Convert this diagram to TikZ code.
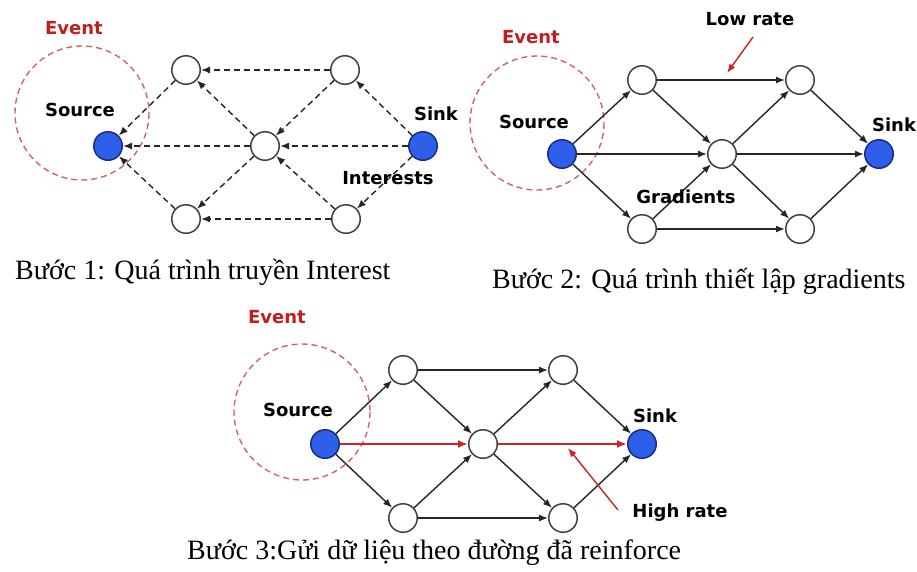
\documentclass[tikz,border=0pt]{standalone}
\usepackage{fontspec}
\setmainfont{Liberation Serif}
\newfontfamily\labelfont{DejaVu Sans}
\usetikzlibrary{arrows.meta}
\definecolor{nodeblue}{RGB}{45,95,235}
\definecolor{nodeedge}{RGB}{25,45,130}
\definecolor{eventred}{RGB}{195,30,30}
\definecolor{ringred}{RGB}{210,100,100}
\definecolor{pathred}{RGB}{205,35,35}
\begin{document}
\begin{tikzpicture}[x=1pt,y=-1pt,
  relay/.style={circle,draw=black!75,line width=1.5pt,fill=white,minimum size=28.5pt,inner sep=0pt},
  endpoint/.style={circle,draw=nodeedge,line width=1.5pt,fill=nodeblue,minimum size=28.5pt,inner sep=0pt},
  ring/.style={draw=ringred,dash pattern=on 6pt off 4pt,line width=1.4pt},
  lbl/.style={font=\labelfont\bfseries\fontsize{18}{21}\selectfont,inner sep=0pt},
  evt/.style={lbl,text=eventred},
  caption/.style={font=\fontsize{28}{31}\selectfont,inner sep=0pt,anchor=west},
  link/.style={draw=black!85,line width=1.4pt,-{Latex[length=9pt,width=7pt]}},
  interest/.style={link,dash pattern=on 6pt off 4pt},
  reinforced/.style={draw=pathred,line width=2.2pt,-{Latex[length=10pt,width=8pt]}},
  pointer/.style={draw=pathred,line width=1.4pt,-{Latex[length=9pt,width=7pt]}}
]
\fill[white] (0,0) rectangle (917,571);
\clip (0,0) rectangle (917,571);

% ---------- Step 1: interest propagation ----------
\draw[ring] (82,113) circle[radius=67];
\node[endpoint] (s1) at (108,146) {};
\node[relay] (a1) at (186,70) {};
\node[relay] (b1) at (345,70) {};
\node[relay] (m1) at (265,146) {};
\node[relay] (c1) at (186,219) {};
\node[relay] (d1) at (346,219) {};
\node[endpoint] (k1) at (423,146) {};
\path[interest] (b1) -- (a1);
\path[interest] (k1) -- (b1);
\path[interest] (k1) -- (m1);
\path[interest] (k1) -- (d1);
\path[interest] (b1) -- (m1);
\path[interest] (d1) -- (m1);
\path[interest] (d1) -- (c1);
\path[interest] (m1) -- (a1);
\path[interest] (m1) -- (c1);
\path[interest] (m1) -- (s1);
\path[interest] (a1) -- (s1);
\path[interest] (c1) -- (s1);
\node[evt] (e1) at (74,28) {Event};
\node[lbl] (src1) at (80,110) {Source};
\node[lbl] (snk1) at (436,114) {Sink};
\node[lbl] (int1) at (388,178) {Interests};
\node[caption] (cap1) at (15,272) {Bước 1: Quá trình truyền Interest};

% ---------- Step 2: gradient setup ----------
\draw[ring] (537,123) circle[radius=67];
\node[endpoint] (s2) at (562,154) {};
\node[relay] (a2) at (642,80) {};
\node[relay] (b2) at (800,80) {};
\node[relay] (m2) at (722,154) {};
\node[relay] (c2) at (642,229) {};
\node[relay] (d2) at (800,229) {};
\node[endpoint] (k2) at (879,154) {};
\path[link] (s2) -- (a2);
\path[link] (s2) -- (m2);
\path[link] (s2) -- (c2);
\path[link] (a2) -- (b2);
\path[link] (a2) -- (m2);
\path[link] (c2) -- (m2);
\path[link] (c2) -- (d2);
\path[link] (m2) -- (b2);
\path[link] (m2) -- (k2);
\path[link] (m2) -- (d2);
\path[link] (b2) -- (k2);
\path[link] (d2) -- (k2);
\node[evt] (e2) at (531,37) {Event};
\node[lbl] (src2) at (534,122) {Source};
\node[lbl] (snk2) at (894,125) {Sink};
\node[lbl] (low2) at (750,19) {Low rate};
\coordinate (lowtip) at (727,73);
\path[pointer] (753,37) -- (lowtip);
\node[lbl] (grad2) at (686,197) {Gradients};
\node[caption] (cap2) at (492,281) {Bước 2: Quá trình thiết lập gradients};

% ---------- Step 3: data along the reinforced path ----------
\draw[ring] (302,412) circle[radius=68];
\node[endpoint] (s3) at (325,444) {};
\node[relay] (a3) at (403,370) {};
\node[relay] (b3) at (563,370) {};
\node[relay] (m3) at (483,444) {};
\node[relay] (c3) at (403,518) {};
\node[relay] (d3) at (563,518) {};
\node[endpoint] (k3) at (642,444) {};
\path[link] (s3) -- (a3);
\path[link] (s3) -- (c3);
\path[link] (a3) -- (b3);
\path[link] (a3) -- (m3);
\path[link] (c3) -- (m3);
\path[link] (c3) -- (d3);
\path[link] (m3) -- (b3);
\path[link] (m3) -- (d3);
\path[link] (b3) -- (k3);
\path[link] (d3) -- (k3);
\path[reinforced] (s3) -- (m3);
\path[reinforced] (m3) -- (k3);
\node[evt] (e3) at (277,317) {Event};
\node[lbl] (src3) at (298,410) {Source};
\node[lbl] (snk3) at (655,416) {Sink};
\node[lbl] (high3) at (680,513) {High rate};
\coordinate (hightip) at (568,448);
\path[pointer] (618,510) -- (hightip);
\node[caption] (cap3) at (187,553) {Bước 3:Gửi dữ liệu theo đường đã reinforce};
\end{tikzpicture}
\end{document}
